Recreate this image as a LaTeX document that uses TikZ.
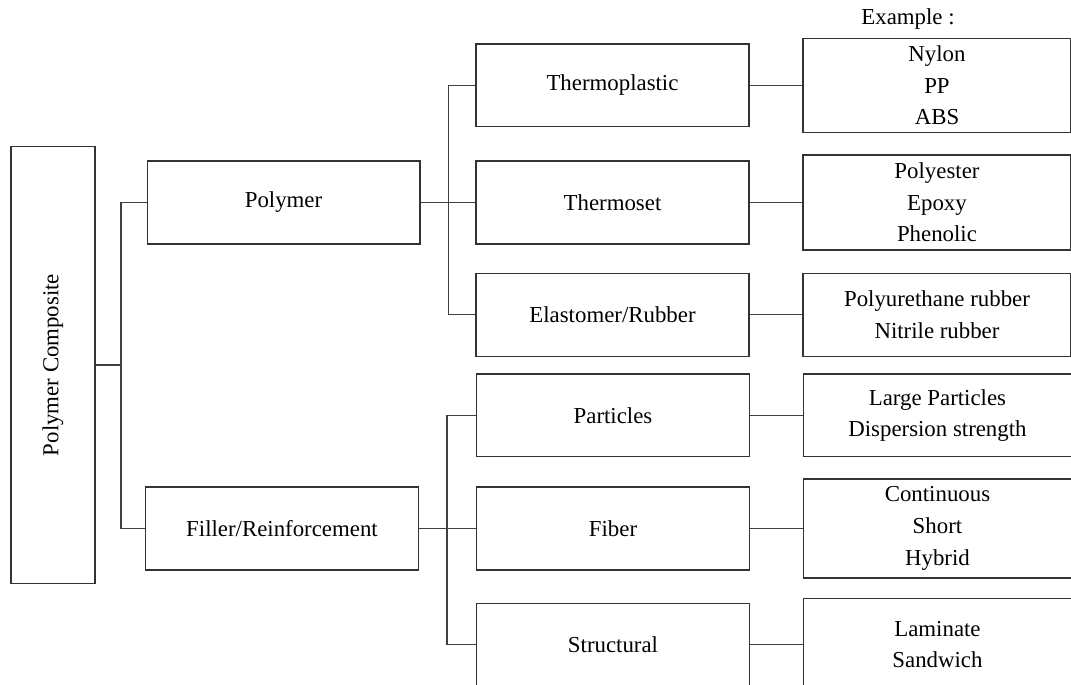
\documentclass[tikz,border=0pt]{standalone}
\usepackage{fontspec}
\setmainfont{Liberation Serif}
\usetikzlibrary{positioning}

\begin{document}
\begin{tikzpicture}[x=0.02cm, y=-0.02cm,
        font=\fontsize{13}{18}\selectfont,
        box/.style={rectangle, draw=black!80, line width=0.6pt, minimum width=5.46cm, minimum height=1.66cm, align=center, inner sep=0pt},
        rootbox/.style={box, minimum width=1.68cm, minimum height=8.76cm},
        examplebox/.style={box, minimum width=5.36cm},
        link/.style={draw=black!75, line width=0.6pt}
    ]
    \useasboundingbox (0,0) rectangle (1071,684);
    % first and second level
    \node[rootbox] (comp) at (53,365) {\rotatebox{90}{Polymer Composite}};
    \node[box] (poly) at (283.5,202.5) {Polymer};
    \node[box] (fill) at (282,528.5) {Filler/Reinforcement};
    % polymer types
    \node[box, right=1.1cm of poly] (tset) {Thermoset};
    \node[box, above=0.66cm of tset] (tplast) {Thermoplastic};
    \node[box, below=0.56cm of tset] (elast) {Elastomer/Rubber};
    % reinforcement types
    \node[box, right=1.14cm of fill] (fiber) {Fiber};
    \node[box, above=0.58cm of fiber] (part) {Particles};
    \node[box, below=0.64cm of fiber] (struct) {Structural};
    % examples
    \node[examplebox, minimum height=1.88cm, right=1.06cm of tplast] (ex1) {Nylon\\PP\\ABS};
    \node[examplebox, minimum height=1.9cm, right=1.06cm of tset] (ex2) {Polyester\\Epoxy\\Phenolic};
    \node[examplebox, right=1.06cm of elast] (ex3) {Polyurethane rubber\\Nitrile rubber};
    \node[examplebox, right=1.06cm of part] (ex4) {Large Particles\\Dispersion strength};
    \node[examplebox, minimum height=1.98cm, right=1.06cm of fiber] (ex5) {Continuous\\Short\\Hybrid};
    \node[examplebox, minimum height=1.84cm, right=1.06cm of struct] (ex6) {Laminate\\Sandwich};
    \node (extitle) at (908,19) {Example :};
    % connectors
    \coordinate (j1) at (121,365);
    \coordinate[right=0.56cm of poly.east] (j2);
    \coordinate[right=0.56cm of fill.east] (j3);
    \draw[link] (comp.east) -- (j1);
    \draw[link] (j1) |- (poly.west);
    \draw[link] (j1) |- (fill.west);
    \draw[link] (poly) -- (tset);
    \draw[link] (j2) |- (tplast.west);
    \draw[link] (j2) |- (elast.west);
    \draw[link] (fill) -- (fiber);
    \draw[link] (j3) |- (part.west);
    \draw[link] (j3) |- (struct.west);
    \draw[link] (tplast) -- (ex1);
    \draw[link] (tset) -- (ex2);
    \draw[link] (elast) -- (ex3);
    \draw[link] (part) -- (ex4);
    \draw[link] (fiber) -- (ex5);
    \draw[link] (struct) -- (ex6);
\end{tikzpicture}
\end{document}
